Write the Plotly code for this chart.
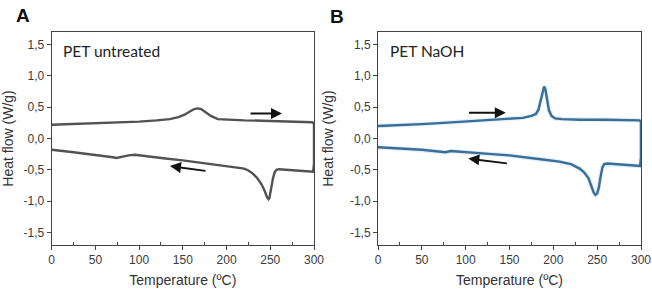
import plotly.graph_objects as go

# ---- Data ----
# Panel A: PET untreated (heating then cooling, continuous loop)
a_heat_T = [0, 25, 50, 75, 100, 120, 135, 145, 152, 158, 163, 167, 171, 176, 182, 190, 200, 220, 250, 280, 298, 300]
a_heat_Q = [0.22, 0.23, 0.24, 0.255, 0.27, 0.29, 0.31, 0.34, 0.38, 0.43, 0.47, 0.48, 0.47, 0.42, 0.36, 0.31, 0.30, 0.29, 0.28, 0.27, 0.26, 0.24]
a_cool_T = [300, 299, 290, 280, 270, 260, 257, 255, 253, 251, 249, 248, 246, 244, 240, 235, 230, 225, 220, 210, 200, 185, 170, 150, 130, 110, 100, 95, 88, 80, 74, 70, 60, 50, 25, 0]
a_cool_Q = [-0.40, -0.53, -0.52, -0.51, -0.50, -0.49, -0.50, -0.54, -0.64, -0.82, -0.95, -0.97, -0.93, -0.85, -0.73, -0.63, -0.56, -0.51, -0.48, -0.46, -0.44, -0.41, -0.38, -0.35, -0.32, -0.29, -0.27, -0.26, -0.27, -0.29, -0.31, -0.30, -0.28, -0.26, -0.22, -0.18]

# Panel B: PET NaOH
b_heat_T = [0, 25, 50, 75, 100, 125, 150, 165, 175, 180, 183, 186, 188, 189.5, 191, 193, 195, 198, 202, 210, 230, 260, 298, 300]
b_heat_Q = [0.20, 0.21, 0.23, 0.25, 0.27, 0.29, 0.31, 0.33, 0.36, 0.39, 0.46, 0.62, 0.76, 0.83, 0.78, 0.60, 0.45, 0.36, 0.32, 0.31, 0.30, 0.30, 0.29, 0.27]
b_cool_T = [300, 299, 290, 280, 270, 262, 258, 256, 254, 252, 250, 248, 246, 243, 240, 235, 230, 220, 207, 190, 170, 150, 130, 110, 100, 90, 83, 77, 70, 50, 25, 0]
b_cool_Q = [-0.30, -0.44, -0.43, -0.42, -0.41, -0.40, -0.41, -0.46, -0.60, -0.78, -0.88, -0.90, -0.86, -0.74, -0.63, -0.54, -0.48, -0.41, -0.37, -0.34, -0.30, -0.27, -0.25, -0.23, -0.21, -0.20, -0.20, -0.22, -0.21, -0.18, -0.16, -0.14]

y_ticks = [-1.5, -1.0, -0.5, 0.0, 0.5, 1.0, 1.5]
y_tick_text = ["-1,5", "-1,0", "-0,5", "0,0", "0,5", "1,0", "1,5"]
x_ticks = [0, 50, 100, 150, 200, 250, 300]
x_tick_text = ["0", "50", "100", "150", "200", "250", "300"]

labels = ["PET untreated", "PET NaOH"]
panel_letters = ["A", "B"]

color_a = "#525252"
color_b = "#3a6e96"
halo_b = "#e1eff8"

W, H = 652, 294

def px_x(X):
    return X / W

def px_y(Y):
    return 1 - Y / H

fig = go.Figure()

fig.add_trace(go.Scatter(x=a_heat_T + a_cool_T, y=a_heat_Q + a_cool_Q, mode="lines",
                         line=dict(color=color_a, width=2.4), xaxis="x", yaxis="y",
                         showlegend=False, hoverinfo="skip"))
fig.add_trace(go.Scatter(x=b_heat_T + b_cool_T, y=b_heat_Q + b_cool_Q, mode="lines",
                         line=dict(color=halo_b, width=4.5), xaxis="x2", yaxis="y2",
                         showlegend=False, hoverinfo="skip"))
fig.add_trace(go.Scatter(x=b_heat_T + b_cool_T, y=b_heat_Q + b_cool_Q, mode="lines",
                         line=dict(color=color_b, width=2.4), xaxis="x2", yaxis="y2",
                         showlegend=False, hoverinfo="skip"))

font_ax = "Liberation Sans, Arial, sans-serif"

def xax(domain, anchor):
    return dict(domain=domain, anchor=anchor, range=[0, 300], tickvals=x_ticks, ticktext=x_tick_text,
                ticks="outside", ticklen=4, tickwidth=1, tickcolor="#444",
                showline=True, linecolor="#444", linewidth=1, mirror=True,
                showgrid=False, zeroline=False, automargin=False,
                minor=dict(tickvals=[25, 75, 125, 175, 225, 275], ticks="inside", ticklen=3, tickcolor="#444"),
                tickfont=dict(family=font_ax, size=12, color="#3a3a3a"),
                title=dict(text="Temperature (ºC)", font=dict(family=font_ax, size=14, color="#333"), standoff=8))

def yax(domain, anchor):
    return dict(domain=domain, anchor=anchor, range=[-1.7, 1.7], tickvals=y_ticks, ticktext=y_tick_text,
                ticks="outside", ticklen=4, tickwidth=1, tickcolor="#444",
                showline=True, linecolor="#444", linewidth=1, mirror=True,
                showgrid=False, zeroline=False, automargin=False,
                tickfont=dict(family=font_ax, size=12, color="#3a3a3a"),
                title=dict(text="Heat flow (W/g)", font=dict(family=font_ax, size=14, color="#333"), standoff=13))

ydom = [px_y(245), px_y(32)]
fig.update_layout(
    width=W, height=H, margin=dict(l=0, r=0, t=0, b=0),
    paper_bgcolor="white", plot_bgcolor="white",
    xaxis=xax([px_x(51.7), px_x(314)], "y"),
    yaxis=yax(ydom, "x"),
    xaxis2=xax([px_x(378), px_x(641)], "y2"),
    yaxis2=yax(ydom, "x2"),
)

annotations = []
# Inner labels
annotations.append(dict(x=11, y=1.39, xref="x", yref="y", text=labels[0], showarrow=False,
                        xanchor="left", yanchor="middle", font=dict(family="Lato, Open Sans, sans-serif", size=15.5, color="#222")))
annotations.append(dict(x=11, y=1.39, xref="x2", yref="y2", text=labels[1], showarrow=False,
                        xanchor="left", yanchor="middle", font=dict(family="Lato, Open Sans, sans-serif", size=15.5, color="#222")))
# Panel letters
annotations.append(dict(x=px_x(14), y=px_y(16), xref="paper", yref="paper", text="<b>" + panel_letters[0] + "</b>",
                        showarrow=False, xanchor="left", yanchor="middle", font=dict(family=font_ax, size=19, color="#111")))
annotations.append(dict(x=px_x(328), y=px_y(17), xref="paper", yref="paper", text="<b>" + panel_letters[1] + "</b>",
                        showarrow=False, xanchor="left", yanchor="middle", font=dict(family=font_ax, size=19, color="#111")))

# Direction arrows (tail -> head)
arrows = [
    ("x", "y", 225.7, 0.40, 263.4, 0.40),
    ("x", "y", 177.6, -0.52, 135.3, -0.44),
    ("x2", "y2", 102.1, 0.41, 145.8, 0.41),
    ("x2", "y2", 148.7, -0.40, 103.0, -0.32),
]
for xr, yr, tx, ty, hx, hy in arrows:
    annotations.append(dict(x=hx, y=hy, ax=tx, ay=ty, xref=xr, yref=yr, axref=xr, ayref=yr,
                            text="", showarrow=True, arrowhead=2, arrowsize=1.1, arrowwidth=2,
                            arrowcolor="#111"))

fig.update_layout(annotations=annotations)

fig.write_html("out.html", config={"displayModeBar": False},
               post_script="document.body.style.margin='0px';document.body.style.overflow='hidden';")
